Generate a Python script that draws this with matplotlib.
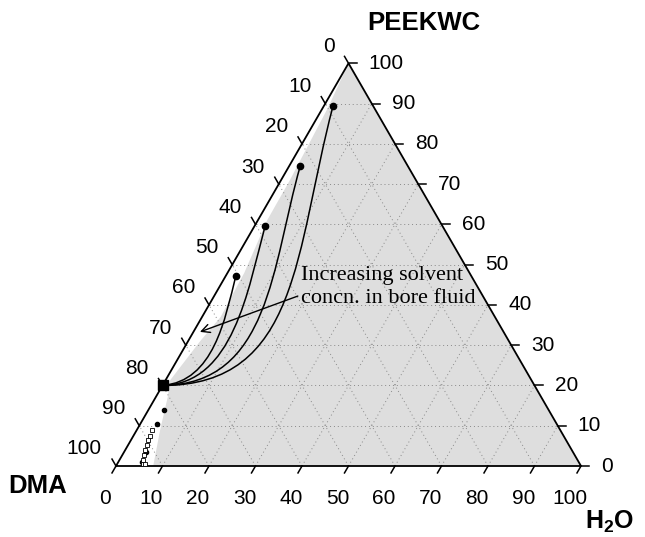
import matplotlib
matplotlib.use('Agg')
import matplotlib.pyplot as plt
import numpy as np
from matplotlib.patches import PathPatch, Polygon
from matplotlib.path import Path

plt.rcParams['font.family'] = ['Liberation Sans', 'DejaVu Sans']
plt.rcParams['mathtext.fontset'] = 'custom'
plt.rcParams['mathtext.rm'] = 'Liberation Sans'
plt.rcParams['mathtext.bf'] = 'Liberation Sans:bold'

TICKS = list(range(0, 101, 10))
TICK_LABELS = [str(t) for t in TICKS]

# compositions are given as (H2O %, PEEKWC %), DMA is the rest
DOPE_H2O = 0.0
DOPE_PEEK = 20.0

END_H2O = [2.0, 2.4, 2.3, 2.2]
END_PEEK = [89.3, 74.4, 59.5, 47.1]

# bezier control points of the precipitation paths
CTRL1_H2O = [29.5, 23.0, 15.0, 10.5]
CTRL1_PEEK = [20.0, 20.2, 20.4, 21.0]
CTRL2_H2O = [11.7, 8.6, 6.5, 5.2]
CTRL2_PEEK = [53.6, 49.9, 43.7, 36.5]

# edge of the grey (two-phase) region
BINODAL_H2O = [0.0, 1.1, 1.9, 2.0, 3.6, 4.0, 2.6, 1.0, 2.6, 5.0, 8.0]
BINODAL_PEEK = [100.0, 89.0, 71.0, 61.0, 48.0, 37.0, 31.0, 21.3, 17.0, 9.0, 0.0]

# cloud points
CLOUD_DOT_H2O = [3.4, 3.7, 4.7, 5.1]
CLOUD_DOT_PEEK = [13.9, 10.4, 3.5, 1.1]
CLOUD_SQ_H2O = [3.2, 3.5, 3.7, 4.0, 4.2, 4.6, 5.1, 5.5, 6.0]
CLOUD_SQ_PEEK = [8.9, 7.5, 6.5, 5.2, 4.0, 2.7, 1.5, 0.6, 0.5]

NOTE = 'Increasing solvent\nconcn. in bore fluid'
NOTE_AT = (17.6, 44.4)
ARROW_TAIL = (18.0, 42.2)
ARROW_HEAD = (1.4, 33.3)

PX = 1 / 4.65  # data units per pixel
S3 = np.sqrt(3) / 2


def tern(h, p):
    h = np.asarray(h, dtype=float)
    p = np.asarray(p, dtype=float)
    return h + p / 2, p * S3


fig = plt.figure(figsize=(6.45, 5.37), dpi=100)
ax = fig.add_axes([0, 0, 1, 1])
ax.set_xlim(-116 * PX, 529 * PX)
ax.set_ylim(-71 * PX, 466 * PX)
ax.axis('off')

# grey region
bx, by = tern(BINODAL_H2O, BINODAL_PEEK)
poly = np.column_stack([np.append(bx, 100), np.append(by, 0)])
ax.add_patch(Polygon(poly, closed=True, facecolor='#dedede', edgecolor='none', zorder=1))

# dotted grid
for v in TICKS[1:-1]:
    for (h0, p0), (h1, p1) in [((0, v), (100 - v, v)),
                               ((v, 0), (v, 100 - v)),
                               ((100 - v, 0), (0, 100 - v))]:
        xs, ys = tern([h0, h1], [p0, p1])
        ax.plot(xs, ys, color='#888888', lw=0.7, ls=(0, (1, 3)), zorder=2)

# triangle
tx, ty = tern([0, 100, 0, 0], [0, 0, 100, 0])
ax.plot(tx, ty, color='black', lw=1.3, zorder=5, solid_joinstyle='miter')

tick_len = 8 * PX
for t, lab in zip(TICKS, TICK_LABELS):
    # H2O, bottom
    x0, y0 = tern(t, 0)
    ax.plot([x0, x0 - 0.5 * tick_len], [y0, y0 - S3 * tick_len], color='black', lw=1.1, zorder=5)
    ax.text(x0 - 11 * PX, y0 - 33 * PX, lab, ha='center', va='center', fontsize=15)
    # PEEKWC, right
    x0, y0 = tern(100 - t, t)
    ax.plot([x0, x0 + tick_len], [y0, y0], color='black', lw=1.1, zorder=5)
    ax.text(x0 + 20 * PX, y0, lab, ha='left', va='center', fontsize=15)
    # DMA, left
    x0, y0 = tern(0, 100 - t)
    ax.plot([x0, x0 - 0.5 * tick_len], [y0, y0 + S3 * tick_len], color='black', lw=1.1, zorder=5)
    ax.text(x0 - 14 * PX, y0 + 17 * PX, lab, ha='right', va='center', fontsize=15)

# precipitation paths
codes = [Path.MOVETO, Path.CURVE4, Path.CURVE4, Path.CURVE4]
for i in range(len(END_H2O)):
    hs = [DOPE_H2O, CTRL1_H2O[i], CTRL2_H2O[i], END_H2O[i]]
    ps = [DOPE_PEEK, CTRL1_PEEK[i], CTRL2_PEEK[i], END_PEEK[i]]
    xs, ys = tern(hs, ps)
    path = Path(np.column_stack([xs, ys]), codes)
    ax.add_patch(PathPatch(path, facecolor='none', edgecolor='black', lw=1.1, zorder=6))

ex, ey = tern(END_H2O, END_PEEK)
ax.plot(ex, ey, 'o', color='black', ms=4.5, zorder=7)
dx, dy = tern(DOPE_H2O, DOPE_PEEK)
ax.plot(dx, dy, 's', color='black', ms=7, zorder=7)

cx, cy = tern(CLOUD_DOT_H2O, CLOUD_DOT_PEEK)
ax.plot(cx, cy, 'o', color='black', ms=3, zorder=7)
cx, cy = tern(CLOUD_SQ_H2O, CLOUD_SQ_PEEK)
ax.plot(cx, cy, 's', mfc='white', mec='black', mew=0.6, ms=2.5, zorder=7)

# annotation
ax.annotate('', xy=tern(*ARROW_HEAD), xytext=tern(*ARROW_TAIL),
            arrowprops=dict(arrowstyle='->', color='black', lw=1.0,
                            mutation_scale=15, shrinkA=0, shrinkB=0), zorder=8)
nx, ny = tern(*NOTE_AT)
ax.text(nx, ny, NOTE, family='Liberation Serif', fontsize=16, ha='left',
        va='center', linespacing=1.3, zorder=8)

# corner labels
ax.text(308 * PX, 443 * PX, 'PEEKWC', fontsize=18.5, fontweight='bold', ha='center', va='center')
ax.text(-78 * PX, -20 * PX, 'DMA', fontsize=18.5, fontweight='bold', ha='center', va='center')
ax.text(494 * PX, -56 * PX, r'$\mathbf{H_2O}$', fontsize=18, ha='center', va='center')

fig.savefig('out.png', dpi=100)
